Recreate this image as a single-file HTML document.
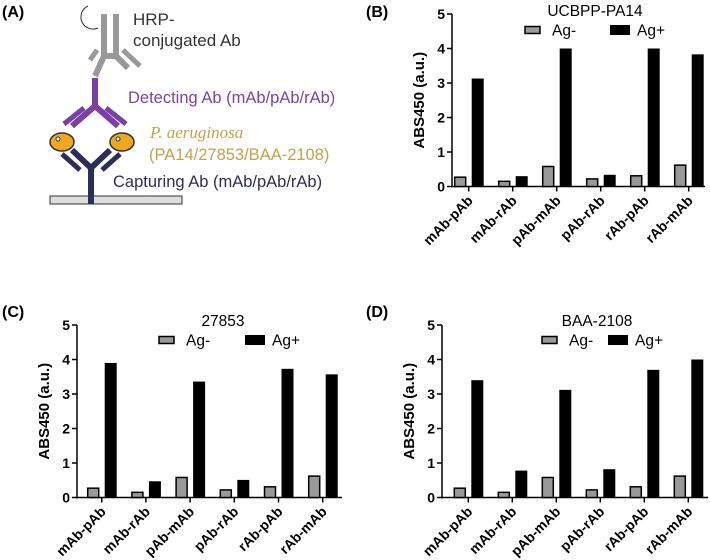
<!DOCTYPE html>
<html><head><meta charset="utf-8"><style>
body{margin:0;background:#fff;}
svg{display:block;font-family:"Liberation Sans",Arial,sans-serif;}
</style></head><body>
<svg id="fig" width="710" height="560" viewBox="0 0 710 560">
<g>
<text x="2" y="17" font-size="16" font-weight="bold">(A)</text>
<rect x="50" y="196" width="132" height="8" fill="#ddd" stroke="#333" stroke-width="1"/>
<g stroke="#2e2d5a" stroke-width="6" fill="none">
<path d="M91 204 V168 L72 150 M91 168 L110 150"/>
<path d="M80 170 L62 154 M102 170 L120 154" stroke-width="5"/>
</g>
<g>
<ellipse cx="62" cy="142" rx="12" ry="9" fill="#f0a81e" stroke="#333" stroke-width="1.5"/>
<ellipse cx="122" cy="142" rx="12" ry="9" fill="#f0a81e" stroke="#333" stroke-width="1.5"/>
<circle cx="58" cy="139" r="2" fill="#fff" stroke="#333"/>
<circle cx="118" cy="139" r="2" fill="#fff" stroke="#333"/>
</g>
<g stroke="#7b3fa6" stroke-width="6" fill="none">
<path d="M95 78 V106 L72 126 M95 106 L118 126"/>
<path d="M84 108 L64 124 M106 108 L126 124" stroke-width="5"/>
</g>
<g stroke="#999" stroke-width="6" fill="none">
<path d="M95 76 L104 56 V14 M104 56 L116 56 V14 M116 56 L128 68"/>
<path d="M97 50 L90 60 M123 50 L140 66" stroke-width="5"/>
</g>
<path d="M88 6 A12 12 0 1 0 98 28 A10 10 0 1 1 88 6 Z" fill="#e8e8e8" stroke="#333" stroke-width="1"/>
<text x="133" y="25" font-size="17" fill="#333">HRP-</text>
<text x="133" y="46" font-size="17" fill="#333">conjugated Ab</text>
<text x="128" y="103" font-size="16.5" fill="#7a44a8">Detecting Ab (mAb/pAb/rAb)</text>
<text x="150" y="138" font-size="17" font-style="italic" fill="#c8a04a" font-family="Liberation Serif,serif">P. aeruginosa</text>
<text x="149" y="160" font-size="16.5" fill="#c8a04a">(PA14/27853/BAA-2108)</text>
<text x="113" y="187" font-size="16.5" fill="#2d2f5a">Capturing Ab (mAb/pAb/rAb)</text>
</g>
<text x="366" y="17" font-size="16" font-weight="bold">(B)</text>
<text x="2" y="317" font-size="16" font-weight="bold">(C)</text>
<text x="366" y="317" font-size="16" font-weight="bold">(D)</text>
</svg>
<script>
const categories=["mAb-pAb","mAb-rAb","pAb-mAb","pAb-rAb","rAb-pAb","rAb-mAb"];
const yTicks=[0,1,2,3,4,5];
const titles=["UCBPP-PA14","27853","BAA-2108"];
const agNegB=[0.27,0.15,0.58,0.22,0.31,0.62];
const agPosB=[3.13,0.30,4.0,0.34,4.0,3.83];
const agNegC=[0.27,0.15,0.58,0.22,0.31,0.62];
const agPosC=[3.9,0.47,3.36,0.51,3.73,3.57];
const agNegD=[0.27,0.15,0.58,0.22,0.31,0.62];
const agPosD=[3.4,0.78,3.12,0.82,3.7,4.0];
const NS="http://www.w3.org/2000/svg";
const svg=document.getElementById('fig');
function mk(tag,attrs,parent,text){const e=document.createElementNS(NS,tag);for(const k in attrs)e.setAttribute(k,attrs[k]);if(text!==undefined)e.textContent=text;parent.appendChild(e);return e;}
function panel(key,title,neg,pos,L){
 const g=mk('g',{},svg);
 
 
 const y=v=>L.y0-(v/5)*(L.y0-L.y5);
 const x=i=>L.t0+i*L.step;
 const ya=mk('line',{x1:L.ax,x2:L.ax,y1:L.y5,y2:L.y0+1,stroke:'#000','stroke-width':1.5},g);
 
 
 const xa=mk('line',{x1:L.ax,x2:L.end,y1:L.y0,y2:L.y0,stroke:'#000','stroke-width':1.5},g);
 
 
 yTicks.forEach(t=>{
  mk('line',{x1:L.ax-5,x2:L.ax,y1:y(t),y2:y(t),stroke:'#000','stroke-width':1.5},g);
  const tl=mk('text',{x:L.ax-7,y:y(t)+5,'font-size':14,'font-weight':'bold','text-anchor':'end'},g,String(t));
  
  
 });
 const yl=mk('text',{transform:`translate(${L.ylx},${(L.y0+L.y5)/2}) rotate(-90)`,'font-size':15,'font-weight':'bold','text-anchor':'middle'},g,'ABS450 (a.u.)');
 
 
 categories.forEach((c,i)=>{
  const cx=x(i);
  mk('line',{x1:cx,x2:cx,y1:L.y0,y2:L.y0+5,stroke:'#000','stroke-width':1.5},g);
  const b1=mk('rect',{x:cx-14,y:y(neg[i]),width:11,height:L.y0-y(neg[i]),fill:'#999',stroke:'#000','stroke-width':1.5},g);
  
  
  const b2=mk('rect',{x:cx+3,y:y(pos[i]),width:12,height:L.y0-y(pos[i]),fill:'#000'},g);
  
  
  const cl=mk('text',{transform:`translate(${cx+5},${L.y0+15}) rotate(-45)`,'font-size':14,'font-weight':'bold','text-anchor':'end'},g,c);
  
  
 });
 const tt=mk('text',{x:L.tx,y:L.ty,'font-size':15.5,'text-anchor':'middle'},g,title);
 
 
 const l1=mk('rect',{x:L.lx1,y:L.ly-3.5,width:15,height:7,fill:'#999',stroke:'#000','stroke-width':1.5},g);
 
 
 const t1=mk('text',{x:L.lx1+27,y:L.ly+5.5,'font-size':15.5},g,'Ag-');
 
 
 const l2=mk('rect',{x:L.lx2,y:L.ly-5,width:20,height:10,fill:'#000'},g);
 
 
 const t2=mk('text',{x:L.lx2+27,y:L.ly+5.5,'font-size':15.5},g,'Ag+');
 
 
}
panel('b',titles[0],agNegB,agPosB,{ax:452,y5:14,y0:186.5,t0:468.7,step:44,end:705,ylx:424,tx:595,ty:16,lx1:525,lx2:610,ly:30});
panel('c',titles[1],agNegC,agPosC,{ax:77,y5:325,y0:497.5,t0:101.7,step:44.2,end:342,ylx:49,tx:223,ty:326,lx1:159,lx2:245,ly:340});
panel('d',titles[2],agNegD,agPosD,{ax:442,y5:325,y0:497.5,t0:468.3,step:44,end:708,ylx:414,tx:597,ty:326,lx1:542,lx2:608,ly:340});
</script>
</body></html>
